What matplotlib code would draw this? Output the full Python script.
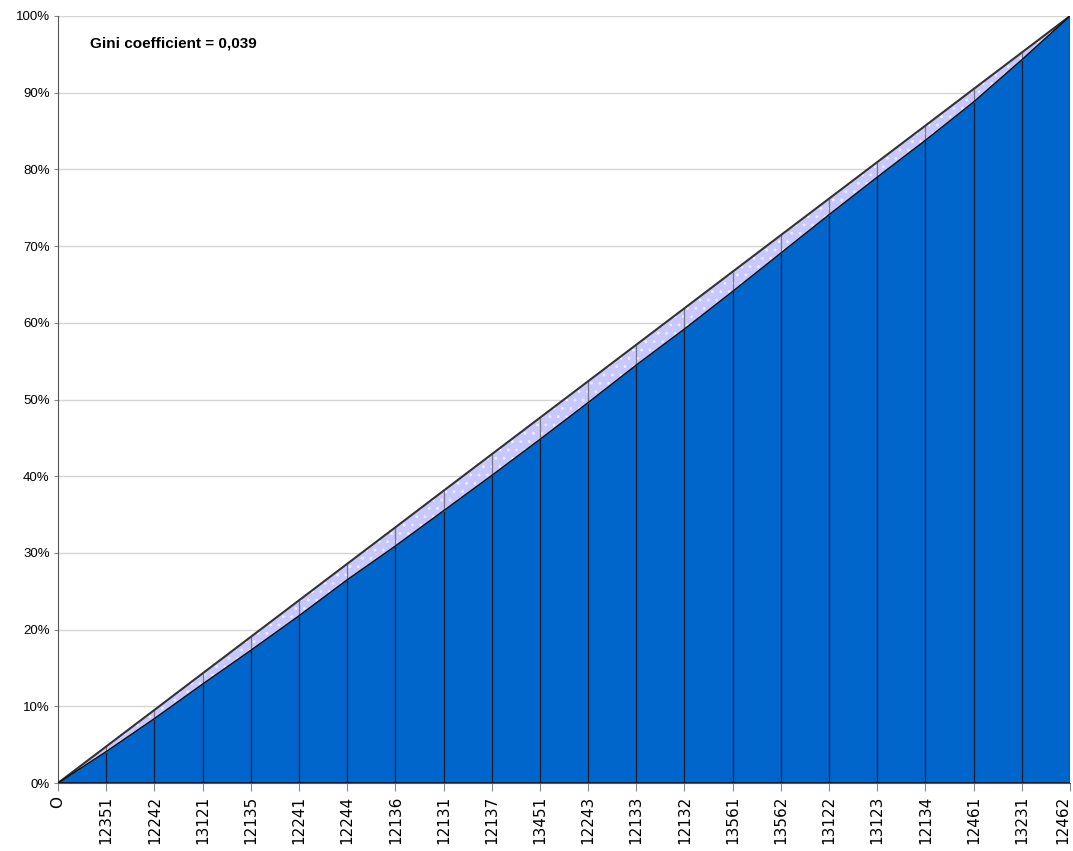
import matplotlib
matplotlib.use("Agg")
import matplotlib.pyplot as plt
import numpy as np

categories = ['O', '12351', '12242', '13121', '12135', '12241', '12244', '12136',
              '12131', '12137', '13451', '12243', '12133', '12132', '13561', '13562',
              '13122', '13123', '12134', '12461', '13231', '12462']

# cumulative share (%)
lorenz = [0, 4.1, 8.4, 12.9, 17.3, 21.8, 26.5, 30.9, 35.5, 40.1, 44.8, 49.6,
          54.5, 59.2, 64.1, 69.1, 74.1, 79.0, 83.8, 88.8, 94.3, 100]
equality = [0, 4.76, 9.52, 14.29, 19.05, 23.81, 28.57, 33.33, 38.10, 42.86, 47.62,
            52.38, 57.14, 61.90, 66.67, 71.43, 76.19, 80.95, 85.71, 90.48, 95.24, 100]
gini_text = 'Gini coefficient = 0,039'

plt.rcParams['hatch.color'] = '#eeeeff'
plt.rcParams['hatch.linewidth'] = 0.8

fig = plt.figure(figsize=(10.73, 8.51), dpi=100)
ax = fig.add_axes([58 / 1073, 1 - 783 / 851, 1012 / 1073, 767 / 851])

x = np.arange(len(categories))

ax.fill_between(x, lorenz, equality, facecolor='#c8c8ff', hatch='..',
                edgecolor='#eeeeff', linewidth=0, zorder=2)
ax.fill_between(x, 0, lorenz, facecolor='#0066cc', linewidth=0, zorder=3)

# vertical divider lines
ax.vlines(x[1:-1], 0, lorenz[1:-1], colors='#1a1a2e', linewidth=0.9, zorder=4)
ax.vlines(x[1:-1], lorenz[1:-1], equality[1:-1], colors='#777788', linewidth=0.9, zorder=4)
ax.vlines(x[-1], 0, 100, colors='black', linewidth=0.9, zorder=4)

ax.plot(x, equality, color='#333333', linewidth=1.5, zorder=5)
ax.plot(x, lorenz, color='#111111', linewidth=1.0, zorder=5)
ax.plot([x[0], x[-1]], [0, 0], color='#111111', linewidth=1.2, zorder=5)

ax.set_xlim(0, len(categories) - 1)
ax.set_ylim(0, 100)
ax.set_xticks(x)
ax.set_xticklabels(categories, rotation=90, fontsize=11, family='DejaVu Sans')
ax.get_xticklabels()[-1].set_horizontalalignment('right')
ax.set_yticks(np.arange(0, 101, 10))
ax.set_yticklabels([f'{v}%' for v in range(0, 101, 10)], fontsize=9.5,
                   family='Liberation Sans')
ax.tick_params(axis='x', length=6, color='#888888', pad=3)
ax.tick_params(axis='y', length=3, color='#888888', pad=3)

ax.grid(axis='y', color='#d4d4d4', linewidth=1.0, linestyle='-', zorder=0)
ax.set_axisbelow(True)
for side in ['top', 'right']:
    ax.spines[side].set_visible(False)
ax.spines['left'].set_color('#555555')
ax.spines['bottom'].set_color('#555555')

fig.text(90 / 1073, 1 - 43 / 851, gini_text, fontsize=11, fontweight='bold',
         family='Liberation Sans', va='center', ha='left')

fig.savefig('out.png', dpi=100)
